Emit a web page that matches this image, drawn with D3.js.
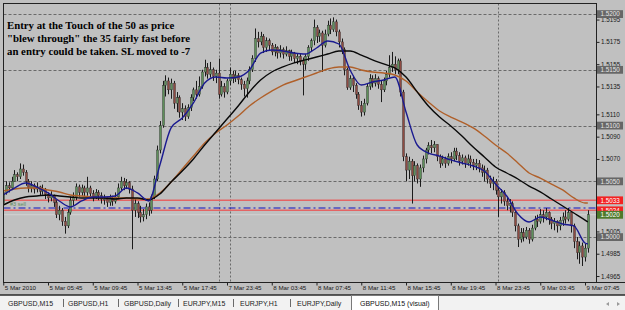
<!DOCTYPE html>
<html><head><meta charset="utf-8">
<script src="https://cdn.jsdelivr.net/npm/d3@7"></script>
<style>body{margin:0;background:#c0c0c0;overflow:hidden} svg{display:block}</style>
</head><body><svg id="c" width="625" height="310"></svg>
<script>
// ---------------- DATA ----------------
const firstOpen = 1.5030;
const closes = [1.5040,1.5046,1.5044,1.5050,1.5056,1.5054,1.5061,1.5058,1.5050,1.5044,
 1.5046,1.5043,1.5045,1.5041,1.5043,1.5038,1.5035,1.5037,1.5031,1.5020,
 1.5024,1.5014,1.5010,1.5022,1.5033,1.5036,1.5045,1.5040,1.5044,1.5040,
 1.5044,1.5039,1.5036,1.5040,1.5037,1.5034,1.5034,1.5031,1.5035,1.5032,
 1.5036,1.5044,1.5050,1.5046,1.5049,1.5043,1.5024,1.5030,1.5022,1.5018,
 1.5020,1.5027,1.5024,1.5036,1.5052,1.5078,1.5100,1.5136,1.5140,1.5132,
 1.5138,1.5120,1.5125,1.5112,1.5115,1.5108,1.5116,1.5125,1.5132,1.5128,
 1.5135,1.5148,1.5152,1.5146,1.5150,1.5144,1.5147,1.5128,1.5135,1.5130,
 1.5140,1.5146,1.5142,1.5145,1.5141,1.5137,1.5133,1.5140,1.5150,1.5160,
 1.5178,1.5175,1.5180,1.5170,1.5176,1.5172,1.5166,1.5170,1.5165,1.5168,
 1.5164,1.5167,1.5162,1.5165,1.5160,1.5162,1.5158,1.5155,1.5162,1.5170,
 1.5176,1.5188,1.5180,1.5183,1.5172,1.5182,1.5190,1.5186,1.5193,1.5184,
 1.5175,1.5168,1.5150,1.5134,1.5142,1.5136,1.5128,1.5118,1.5112,1.5120,
 1.5135,1.5142,1.5138,1.5142,1.5137,1.5132,1.5140,1.5146,1.5152,1.5155,
 1.5150,1.5158,1.5130,1.5072,1.5060,1.5068,1.5055,1.5064,1.5052,1.5062,
 1.5070,1.5078,1.5082,1.5080,1.5083,1.5072,1.5066,1.5070,1.5066,1.5072,
 1.5070,1.5077,1.5073,1.5068,1.5071,1.5066,1.5070,1.5067,1.5064,1.5066,
 1.5062,1.5058,1.5060,1.5052,1.5048,1.5050,1.5042,1.5036,1.5040,1.5032,
 1.5028,1.5030,1.5022,1.5010,1.4998,1.5004,1.5000,1.5006,1.4998,1.5008,
 1.5016,1.5014,1.5020,1.5018,1.5022,1.5016,1.5012,1.5014,1.5010,1.5015,
 1.5018,1.5016,1.5022,1.5010,1.4996,1.4986,1.4992,1.4982,1.4990,1.5020];
const highs = [1.5044,1.5050,1.5049,1.5054,1.5060,1.5058,1.5066,1.5065,1.5060,1.5052,
 1.5050,1.5048,1.5049,1.5046,1.5047,1.5044,1.5040,1.5041,1.5038,1.5033,
 1.5028,1.5026,1.5018,1.5025,1.5036,1.5040,1.5048,1.5047,1.5047,1.5046,
 1.5054,1.5046,1.5042,1.5043,1.5042,1.5040,1.5038,1.5036,1.5038,1.5037,
 1.5040,1.5048,1.5054,1.5053,1.5052,1.5050,1.5046,1.5034,1.5032,1.5028,
 1.5025,1.5030,1.5031,1.5038,1.5055,1.5082,1.5104,1.5140,1.5145,1.5143,
 1.5142,1.5140,1.5130,1.5127,1.5120,1.5118,1.5119,1.5128,1.5134,1.5140,
 1.5144,1.5150,1.5159,1.5156,1.5157,1.5152,1.5150,1.5160,1.5140,1.5138,
 1.5142,1.5152,1.5149,1.5149,1.5147,1.5143,1.5140,1.5143,1.5153,1.5163,
 1.5187,1.5184,1.5184,1.5182,1.5179,1.5178,1.5174,1.5173,1.5171,1.5172,
 1.5170,1.5171,1.5168,1.5168,1.5166,1.5165,1.5164,1.5161,1.5164,1.5172,
 1.5178,1.5195,1.5190,1.5186,1.5185,1.5186,1.5194,1.5196,1.5197,1.5195,
 1.5186,1.5178,1.5170,1.5152,1.5145,1.5144,1.5138,1.5130,1.5122,1.5124,
 1.5138,1.5146,1.5145,1.5146,1.5144,1.5140,1.5143,1.5149,1.5163,1.5166,
 1.5162,1.5160,1.5160,1.5132,1.5075,1.5072,1.5070,1.5068,1.5066,1.5065,
 1.5073,1.5080,1.5085,1.5087,1.5086,1.5083,1.5074,1.5073,1.5072,1.5075,
 1.5076,1.5080,1.5080,1.5076,1.5074,1.5073,1.5074,1.5073,1.5070,1.5070,
 1.5069,1.5065,1.5064,1.5062,1.5055,1.5054,1.5052,1.5045,1.5043,1.5042,
 1.5036,1.5034,1.5032,1.5024,1.5012,1.5008,1.5008,1.5009,1.5008,1.5011,
 1.5019,1.5020,1.5025,1.5024,1.5026,1.5023,1.5018,1.5017,1.5015,1.5018,
 1.5022,1.5024,1.5026,1.5022,1.5012,1.5000,1.4996,1.4995,1.4994,1.5024];
const lows = [1.5026,1.5038,1.5040,1.5042,1.5050,1.5050,1.5052,1.5055,1.5046,1.5040,
 1.5040,1.5039,1.5040,1.5037,1.5038,1.5034,1.5031,1.5032,1.5027,1.5017,
 1.5015,1.5010,1.5003,1.5008,1.5020,1.5028,1.5033,1.5036,1.5037,1.5036,
 1.5037,1.5035,1.5032,1.5034,1.5033,1.5030,1.5029,1.5027,1.5028,1.5028,
 1.5030,1.5034,1.5042,1.5042,1.5043,1.5039,1.4989,1.5018,1.5017,1.5013,
 1.5014,1.5016,1.5019,1.5021,1.5034,1.5050,1.5075,1.5098,1.5126,1.5128,
 1.5124,1.5115,1.5112,1.5107,1.5105,1.5104,1.5106,1.5113,1.5122,1.5124,
 1.5126,1.5133,1.5144,1.5142,1.5143,1.5140,1.5138,1.5124,1.5126,1.5125,
 1.5128,1.5136,1.5138,1.5139,1.5137,1.5132,1.5126,1.5125,1.5137,1.5148,
 1.5157,1.5170,1.5172,1.5165,1.5166,1.5167,1.5163,1.5162,1.5160,1.5161,
 1.5160,1.5162,1.5158,1.5158,1.5156,1.5155,1.5154,1.5127,1.5150,1.5158,
 1.5166,1.5172,1.5174,1.5175,1.5148,1.5170,1.5180,1.5182,1.5184,1.5180,
 1.5170,1.5164,1.5145,1.5132,1.5132,1.5130,1.5124,1.5114,1.5108,1.5109,
 1.5118,1.5132,1.5134,1.5135,1.5133,1.5121,1.5130,1.5136,1.5143,1.5148,
 1.5146,1.5146,1.5126,1.5068,1.5050,1.5052,1.5030,1.5050,1.5048,1.5045,
 1.5058,1.5066,1.5074,1.5075,1.5076,1.5068,1.5062,1.5064,1.5062,1.5064,
 1.5066,1.5068,1.5069,1.5064,1.5065,1.5062,1.5064,1.5062,1.5060,1.5060,
 1.5058,1.5054,1.5050,1.5048,1.5044,1.5042,1.5038,1.5018,1.5030,1.5028,
 1.5024,1.5022,1.5018,1.5005,1.4991,1.4995,1.4996,1.4998,1.4994,1.4996,
 1.5006,1.5009,1.5012,1.5013,1.5015,1.5011,1.5007,1.5006,1.5004,1.5006,
 1.5010,1.5012,1.5014,1.5004,1.4990,1.4980,1.4976,1.4974,1.4978,1.4986];

// moving averages sampled at these bar indices
const maBars = [0,4,8,12,16,20,24,28,32,36,40,44,48,52,56,60,64,68,72,76,80,84,88,92,96,100,
 104,108,112,116,120,124,128,132,136,140,144,148,152,156,160,164,168,172,176,180,184,188,192,196,200,204,208,209];
const maFast = [1.50377,1.50439,1.50484,1.50448,1.50395,1.50323,1.50269,1.50323,1.50359,1.50359,
 1.50368,1.50439,1.50395,1.50323,1.50646,1.50978,1.51067,1.51202,1.51381,1.51435,
 1.51426,1.51435,1.51498,1.51650,1.51677,1.51668,1.51650,1.51641,1.51695,1.51758,
 1.51731,1.51498,1.51363,1.51390,1.51408,1.51435,1.51121,1.50825,1.50753,1.50726,
 1.50691,1.50664,1.50637,1.50592,1.50475,1.50368,1.50206,1.50135,1.50179,1.50152,
 1.50117,1.50099,1.49946,1.49937];
const ma35 = [1.50287,1.50332,1.50359,1.50368,1.50377,1.50368,1.50359,1.50350,1.50350,1.50350,
 1.50341,1.50350,1.50350,1.50332,1.50386,1.50493,1.50592,1.50700,1.50825,1.50942,
 1.51058,1.51175,1.51301,1.51408,1.51480,1.51525,1.51561,1.51588,1.51614,1.51641,
 1.51668,1.51668,1.51632,1.51588,1.51552,1.51516,1.51435,1.51301,1.51175,1.51076,
 1.50996,1.50906,1.50807,1.50718,1.50628,1.50574,1.50520,1.50457,1.50404,1.50341,
 1.50278,1.50215,1.50152,1.50135];
const ma50 = [1.50413,1.50431,1.50439,1.50439,1.50422,1.50404,1.50377,1.50368,1.50359,1.50350,
 1.50350,1.50350,1.50341,1.50341,1.50395,1.50493,1.50610,1.50726,1.50843,1.50933,
 1.51005,1.51085,1.51175,1.51247,1.51309,1.51363,1.51399,1.51435,1.51471,1.51507,
 1.51525,1.51525,1.51498,1.51480,1.51471,1.51453,1.51399,1.51301,1.51211,1.51130,
 1.51076,1.51031,1.50978,1.50906,1.50825,1.50753,1.50664,1.50574,1.50529,1.50475,
 1.50422,1.50350,1.50305,1.50305];

const priceTicks = [1.5195,1.5175,1.5155,1.5135,1.5110,1.5090,1.5070,1.5005,1.4985,1.4965];
const grayLevels = [1.5200,1.5150,1.5100,1.5050,1.5000];
const slLevels = [1.5033,1.5024];
const entryLevel = 1.5026;
const bidLevel = 1.5020;
const timeTickBars = [0,16,32,48,64,80,96,112,128,144,160,176,192,208];
const timeTickLabels = ["5 Mar 2010","5 Mar 05:45","5 Mar 09:45","5 Mar 13:45","5 Mar 17:45","7 Mar 23:45",
 "8 Mar 03:45","8 Mar 07:45","8 Mar 11:45","8 Mar 15:45","8 Mar 19:45","8 Mar 23:45","9 Mar 03:45","9 Mar 07:45"];
const daySeparatorBars = [77,81,177];
const noteLines = ["Entry at the Touch of the 50 as price",
 "\"blew through\" the 35 fairly fast before",
 "an entry could be taken. SL moved to -7"];
const orderLabel = "#3 sell";
const tabLabels = ["GBPUSD,M15","GBPUSD,H1","GBPUSD,Daily","EURJPY,M15","EURJPY,H1","EURJPY,Daily"];
const activeTab = "GBPUSD,M15 (visual)";

// ---------------- DRAW ----------------
const W = 625, H = 310;
const P = {l:3.5, t:3.5, r:596.5, b:282.5};
const svg = d3.select('#c');
const x = d3.scaleLinear().domain([0, 209]).range([3.25, 3.25 + 2.797*209]);
const y = d3.scaleLinear().domain([1.5000, 1.5200]).range([237, 14]);

svg.append('rect').attr('width', W).attr('height', H).attr('fill', '#c0c0c0');
svg.append('defs').append('clipPath').attr('id','pc').append('rect')
  .attr('x', P.l+0.5).attr('y', P.t+0.5).attr('width', P.r-P.l-1).attr('height', P.b-P.t-1);

const plot = svg.append('g').attr('clip-path','url(#pc)');

// gray dashed level lines
plot.selectAll('line.gl').data(grayLevels).join('line')
  .attr('x1', P.l).attr('x2', P.r)
  .attr('y1', d => Math.round(y(d))+0.5).attr('y2', d => Math.round(y(d))+0.5)
  .attr('stroke', '#6a6a6a').attr('stroke-width', 1).attr('stroke-dasharray', '3,2');

// day separators
plot.selectAll('line.sep').data(daySeparatorBars).join('line')
  .attr('x1', d => Math.round(x(d))+0.5).attr('x2', d => Math.round(x(d))+0.5)
  .attr('y1', P.t).attr('y2', P.b)
  .attr('stroke', '#6a6a6a').attr('stroke-width', 1).attr('stroke-dasharray', '2,2');

// bid line
plot.append('line').attr('x1', P.l).attr('x2', P.r)
  .attr('y1', y(bidLevel)).attr('y2', y(bidLevel))
  .attr('stroke', '#d2d2d2').attr('stroke-width', 1);

// SL lines
plot.selectAll('line.sl').data(slLevels).join('line')
  .attr('x1', P.l).attr('x2', P.r)
  .attr('y1', d => y(d)).attr('y2', d => y(d))
  .attr('stroke', '#e46464').attr('stroke-width', 1.6);

// entry dash-dot
plot.append('line').attr('x1', P.l).attr('x2', P.r)
  .attr('y1', y(entryLevel)).attr('y2', y(entryLevel))
  .attr('stroke', '#1010c0').attr('stroke-width', 1.2).attr('stroke-dasharray', '7,3,2,3');

plot.append('text').attr('x', 10).attr('y', y(entryLevel) - 2.5)
  .attr('font-family', 'Liberation Sans, Arial, sans-serif').attr('font-size', 5.5)
  .attr('fill', '#5f8d5f').text(orderLabel);

// candles
const bars = closes.map((c, i) => ({i, o: i === 0 ? firstOpen : closes[i-1], h: highs[i], l: lows[i], c}));
const cg = plot.append('g');
cg.selectAll('line.w').data(bars).join('line')
  .attr('x1', d => Math.round(x(d.i))+0.5).attr('x2', d => Math.round(x(d.i))+0.5)
  .attr('y1', d => y(Math.max(d.h, d.o, d.c))).attr('y2', d => y(Math.min(d.l, d.o, d.c)))
  .attr('stroke', '#1b1b1b').attr('stroke-width', 1);
cg.selectAll('rect.b').data(bars).join('rect')
  .attr('x', d => Math.round(x(d.i)) - 0.5).attr('width', 2)
  .attr('y', d => y(Math.max(d.o, d.c)))
  .attr('height', d => Math.max(1, y(Math.min(d.o, d.c)) - y(Math.max(d.o, d.c))))
  .attr('fill', d => d.c >= d.o ? '#5e8f5a' : '#8e4b42')
  .attr('stroke', '#2a2a2a').attr('stroke-width', 0.4);

// moving averages
const line = arr => d3.line().curve(d3.curveMonotoneX).x((d, k) => x(maBars[k])).y(d => y(d))(arr);
plot.append('path').attr('d', line(ma50)).attr('fill','none').attr('stroke','#b0602a').attr('stroke-width',1.4);
plot.append('path').attr('d', line(ma35)).attr('fill','none').attr('stroke','#080808').attr('stroke-width',1.4);
plot.append('path').attr('d', line(maFast)).attr('fill','none').attr('stroke','#1a1a90').attr('stroke-width',1.4);

// note text
svg.append('g').selectAll('text').data(noteLines).join('text')
  .attr('x', 7).attr('y', (d, i) => 29 + i*13)
  .attr('font-family', 'Liberation Serif, Times New Roman, serif').attr('font-weight', 'bold')
  .attr('font-size', 10.8).attr('fill', '#000').text(d => d);

// frame
svg.append('rect').attr('x', P.l).attr('y', P.t).attr('width', P.r - P.l).attr('height', P.b - P.t)
  .attr('fill', 'none').attr('stroke', '#222').attr('stroke-width', 1);
svg.append('line').attr('x1', P.r).attr('x2', W).attr('y1', P.b).attr('y2', P.b).attr('stroke', '#222');

// price axis
const ya = svg.append('g').attr('transform', `translate(${P.r},0)`)
  .call(d3.axisRight(y).tickValues(priceTicks).tickSize(3).tickPadding(1.5).tickFormat(d3.format('.4f')));
ya.select('.domain').remove();
ya.selectAll('line').attr('stroke', '#222');
ya.selectAll('text').attr('font-family', 'Liberation Sans, Arial, sans-serif').attr('font-size', 6.3).attr('fill', '#1a1a1a');

// time axis
const xa = svg.append('g').attr('transform', `translate(0,${P.b})`)
  .call(d3.axisBottom(x).tickValues(timeTickBars).tickSize(3).tickFormat((d, i) => timeTickLabels[i]));
xa.select('.domain').remove();
xa.selectAll('line').attr('stroke', '#222');
xa.selectAll('text').attr('text-anchor', 'start').attr('x', 1).attr('y', 3.5)
  .attr('font-family', 'Liberation Sans, Arial, sans-serif').attr('font-size', 6.2).attr('fill', '#1a1a1a');

// price boxes
function box(p, bg, fg) {
  const g = svg.append('g');
  g.append('rect').attr('x', P.r + 0.5).attr('y', y(p) - 3.8).attr('width', 26).attr('height', 7.8).attr('fill', bg);
  g.append('text').attr('x', P.r + 4).attr('y', y(p) + 2.3)
    .attr('font-family', 'Liberation Sans, Arial, sans-serif').attr('font-size', 6.3).attr('fill', fg)
    .text(d3.format('.4f')(p));
}
grayLevels.forEach(p => box(p, '#676767', '#e6e6e6'));
slLevels.forEach(p => box(p, '#f22222', '#ffffff'));
box(bidLevel, '#4e7a2c', '#ffffff');

// tab bar
svg.append('rect').attr('x', 0).attr('y', 295).attr('width', W).attr('height', 15).attr('fill', '#f2f2f2');
svg.append('line').attr('x1', 0).attr('x2', W).attr('y1', 295).attr('y2', 295).attr('stroke', '#2a2a2a').attr('stroke-width', 1.5);
const tabX = [8, 68, 124, 183, 240, 297];
const sepX = [63, 118, 178, 233, 290];
svg.append('g').selectAll('text').data(tabLabels).join('text')
  .attr('x', (d, i) => tabX[i]).attr('y', 305.5)
  .attr('font-family', 'Liberation Sans, Arial, sans-serif').attr('font-size', 7).attr('fill', '#222').text(d => d);
svg.append('g').selectAll('line').data(sepX).join('line')
  .attr('x1', d => d + 0.5).attr('x2', d => d + 0.5).attr('y1', 299).attr('y2', 307)
  .attr('stroke', '#6a6a6a');
svg.append('path').attr('d', 'M351.5,310 V295.5 H438.5 V310').attr('fill', '#ffffff').attr('stroke', '#7a7a7a');
svg.append('text').attr('x', 360).attr('y', 305.5)
  .attr('font-family', 'Liberation Sans, Arial, sans-serif').attr('font-size', 7).attr('fill', '#111').text(activeTab);
svg.append('path').attr('d', 'M609,302 L606,304 L609,306 Z M617,302 L620,304 L617,306 Z').attr('fill', '#9a9a9a');
</script></body></html>
